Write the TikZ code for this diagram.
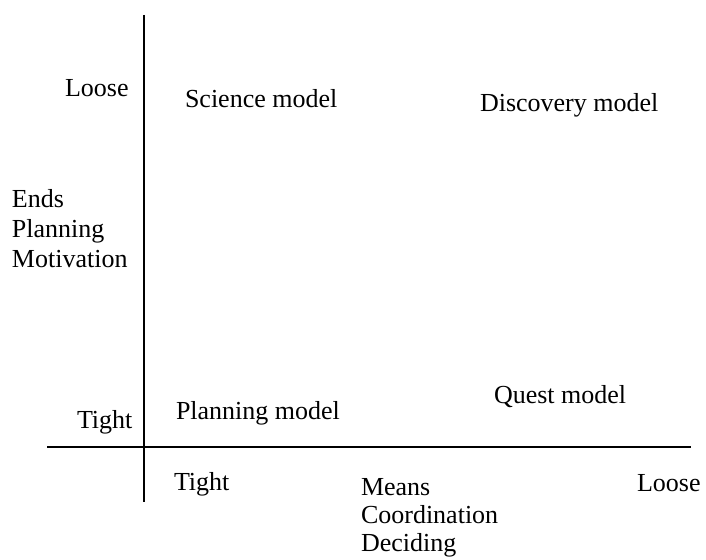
\documentclass[tikz,border=0pt]{standalone}
\usepackage{fontspec}
\setmainfont{Liberation Serif}
\begin{document}
\begin{tikzpicture}[x=1pt,y=-1pt,
  lbl/.style={anchor=base west,inner sep=0pt,outer sep=0pt,font=\fontsize{26}{30}\selectfont,align=left},
  axis/.style={line width=2.5pt}]
\useasboundingbox (0,0) rectangle (706,559);
\coordinate (vtop) at (144,15);
\coordinate (vbot) at (144,502);
\coordinate (hl) at (47,447);
\coordinate (hr) at (691,447);
\draw[axis] (vtop) -- (vbot);
\draw[axis] (hl) -- (hr);
\node[lbl] (yloose) at (65,97) {Loose};
\node[lbl] (ytight) at (77,428) {Tight};
\node[lbl] (ylab) at (12,267) {Ends\\Planning\\Motivation};
\node[lbl] (xtight) at (174,490) {Tight};
\node[lbl] (xloose) at (637,491) {Loose};
\node[lbl,font=\fontsize{26}{28}\selectfont] (xlab) at (361,551) {Means\\Coordination\\Deciding};
\node[lbl] (sci) at (185,108) {Science model};
\node[lbl] (disc) at (480,112) {Discovery model};
\node[lbl] (plan) at (176,419) {Planning model};
\node[lbl] (quest) at (494,403) {Quest model};
\end{tikzpicture}
\end{document}
